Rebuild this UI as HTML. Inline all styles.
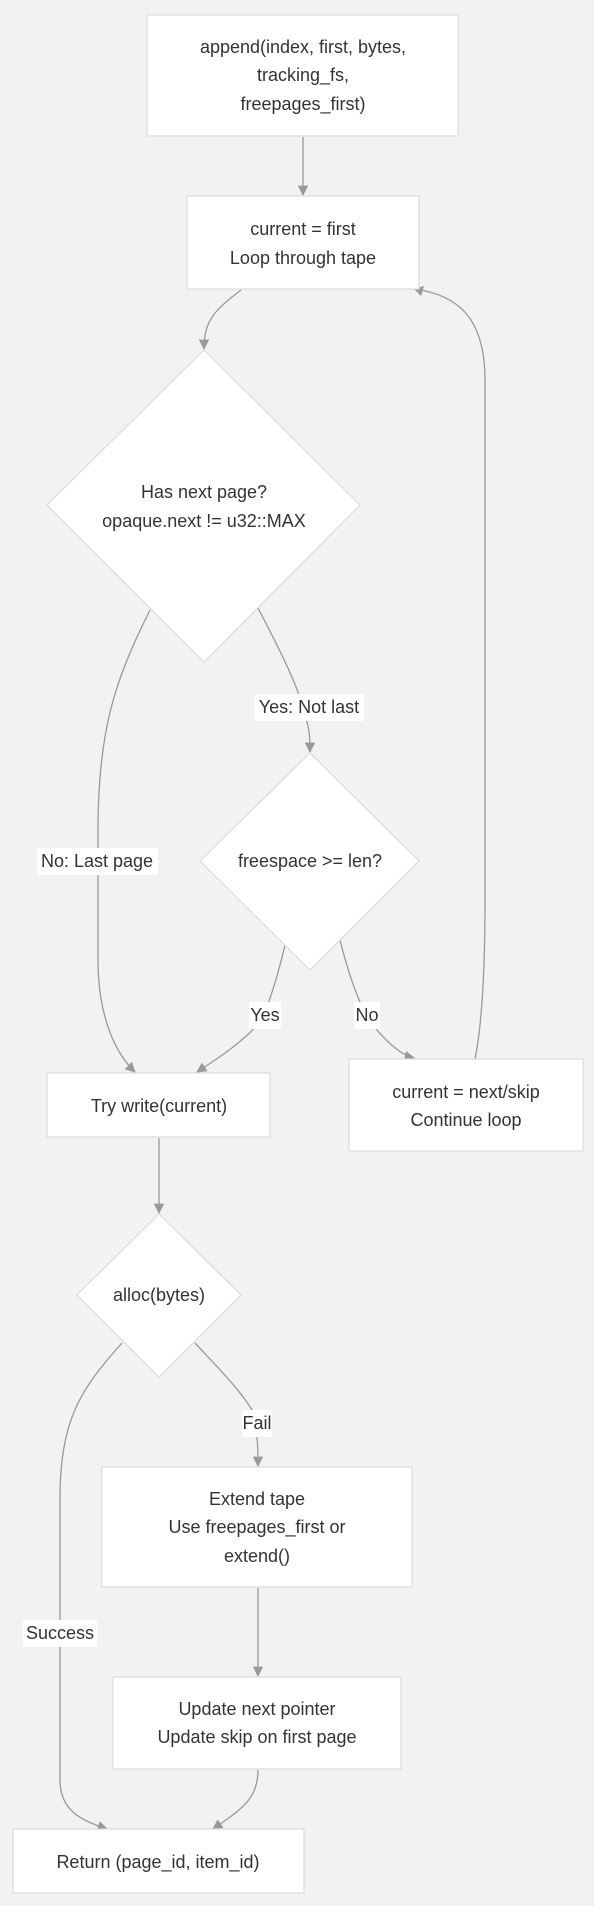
<!DOCTYPE html>
<html><head><meta charset="utf-8"><style>
html,body{margin:0;padding:0;background:#f2f2f2;}
svg{display:block;}
text{font-family:"Liberation Sans",sans-serif;font-size:18px;fill:#333;text-anchor:middle;dominant-baseline:central;}
.n{fill:#fff;stroke:#dcdcdc;stroke-width:1.2;}
.e{fill:none;stroke:#999;stroke-width:1.3;}
.lb{fill:#fff;}
</style></head><body>
<svg width="594" height="1906" viewBox="0 0 594 1906" xmlns="http://www.w3.org/2000/svg">
<defs><marker id="a" viewBox="0 0 10 10" refX="9" refY="5" markerWidth="8" markerHeight="8" orient="auto"><path d="M0,0L10,5L0,10z" fill="#999"/></marker></defs>
<rect width="594" height="1906" fill="#f2f2f2"/>
<!-- edges -->
<path class="e" marker-end="url(#a)" d="M303,137 L303,195"/>
<path class="e" marker-end="url(#a)" d="M241,290 C215,310 204,320 204,349"/>
<path class="e" marker-end="url(#a)" d="M150,610 C115,680 98,730 98,830 L98,960 C98,1010 112,1050 135,1072"/>
<path class="e" marker-end="url(#a)" d="M258,608 C280,650 300,690 305,715 C310,730 310,740 310,752"/>
<path class="e" marker-end="url(#a)" d="M285,945 C278,975 270,1000 262,1020 C240,1045 215,1060 197,1072"/>
<path class="e" marker-end="url(#a)" d="M340,940 C350,980 360,1005 370,1022 C385,1040 400,1055 414,1058"/>
<path class="e" d="M475,1059 C483,1020 485,960 485,900 L485,380 C485,320 460,295 414,289"/>
<path d="M414,289 L424,286 L421,296 z" fill="#999"/>
<path class="e" marker-end="url(#a)" d="M159,1138 L159,1213"/>
<path class="e" marker-end="url(#a)" d="M122,1343 C80,1390 60,1420 60,1500 L60,1780 C60,1810 80,1820 107,1829"/>
<path class="e" marker-end="url(#a)" d="M195,1343 C220,1370 240,1390 252,1410 C258,1430 258,1450 258,1466"/>
<path class="e" marker-end="url(#a)" d="M258,1588 L258,1676"/>
<path class="e" marker-end="url(#a)" d="M258,1770 C258,1800 240,1810 213,1829"/>
<!-- nodes -->
<rect class="n" x="147" y="15" width="311" height="121"/>
<text x="303" y="47">append(index, first, bytes,</text>
<text x="303" y="75">tracking_fs,</text>
<text x="303" y="104">freepages_first)</text>
<rect class="n" x="187" y="196" width="232" height="93"/>
<text x="303" y="229">current = first</text>
<text x="303" y="258">Loop through tape</text>
<polygon class="n" points="204,350 360,505 204,662 47,505"/>
<text x="204" y="492">Has next page?</text>
<text x="204" y="521">opaque.next != u32::MAX</text>
<polygon class="n" points="310,753 419,861 310,970 200,861"/>
<text x="310" y="861">freespace &gt;= len?</text>
<rect class="n" x="47" y="1073" width="223" height="64"/>
<text x="159" y="1106">Try write(current)</text>
<rect class="n" x="349" y="1059" width="234" height="92"/>
<text x="466" y="1092">current = next/skip</text>
<text x="466" y="1120">Continue loop</text>
<polygon class="n" points="159,1214 241,1295 159,1377 77,1295"/>
<text x="159" y="1295">alloc(bytes)</text>
<rect class="n" x="102" y="1467" width="310" height="120"/>
<text x="257" y="1499">Extend tape</text>
<text x="257" y="1527">Use freepages_first or</text>
<text x="257" y="1556">extend()</text>
<rect class="n" x="113" y="1677" width="288" height="92"/>
<text x="257" y="1709">Update next pointer</text>
<text x="257" y="1737">Update skip on first page</text>
<rect class="n" x="13" y="1829" width="291" height="64"/>
<text x="158" y="1862">Return (page_id, item_id)</text>
<!-- labels -->
<rect class="lb" x="255" y="694" width="109" height="27"/><text x="309" y="707">Yes: Not last</text>
<rect class="lb" x="37" y="848" width="121" height="27"/><text x="97" y="861">No: Last page</text>
<rect class="lb" x="249" y="1002" width="32" height="27"/><text x="265" y="1015">Yes</text>
<rect class="lb" x="354" y="1002" width="26" height="27"/><text x="367" y="1015">No</text>
<rect class="lb" x="242" y="1410" width="30" height="27"/><text x="257" y="1423">Fail</text>
<rect class="lb" x="23" y="1620" width="74" height="27"/><text x="60" y="1633">Success</text>
</svg>
</body></html>
